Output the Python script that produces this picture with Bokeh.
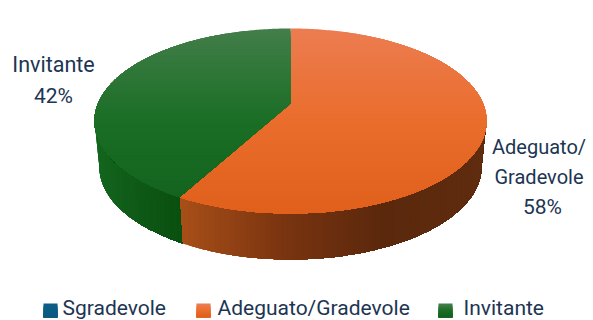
import numpy as np
from bokeh.plotting import figure
from bokeh.models import Range1d, ColumnDataSource
from bokeh.core.properties import value
from bokeh.embed import file_html
from bokeh.resources import INLINE

categories = ["Sgradevole", "Adeguato/Gradevole", "Invitante"]
values = [0, 58, 42]
label_lines = [[], ["Adeguato/", "Gradevole"], ["Invitante"]]
top_ramps = [["#0B5F86", "#0B5A80"],
             ["#EC7C50", "#EA6D2C", "#E0601C"],
             ["#427E49", "#1A6E25", "#13621E"]]
side_ramps = [["#0B4F70", "#0B4F70"],
              ["#A84F18", "#7A3410", "#5A280C", "#602C10"],
              ["#14661F", "#0F5A17", "#0A5010"]]
TEXT = "#1C3553"
FONT = "Roboto"

W, H = 593, 320
AX, AY = 290, 103                   # pie centre as seen in perspective
A, B, K = 192.5, 89.2, 0.189        # projective circle
THICK, SHRINK = 46, 0.975


def rim(theta):
    w = 1 + K * np.cos(theta)
    return AX + A * np.sin(theta) / w, AY - B * np.cos(theta) / w


def clip(px, py, coord, limit):
    """Keep the part of a polygon with coord >= limit (coord: 0 for x, 1 for y)."""
    pts = np.column_stack([px, py])
    out = []
    for i in range(len(pts)):
        a, b = pts[i], pts[(i + 1) % len(pts)]
        ina, inb = a[coord] >= limit, b[coord] >= limit
        if ina:
            out.append(a)
        if ina != inb:
            t = (limit - a[coord]) / (b[coord] - a[coord])
            out.append(a + t * (b - a))
    if not out:
        return None, None
    out = np.array(out)
    return out[:, 0].tolist(), out[:, 1].tolist()


def ramp(colors, t):
    c = np.array([[int(h[i:i + 2], 16) for i in (1, 3, 5)] for h in colors], float)
    pos = t * (len(c) - 1)
    i = min(int(pos), len(c) - 2)
    m = c[i] + (c[i + 1] - c[i]) * (pos - i)
    return "#%02x%02x%02x" % tuple(int(round(v)) for v in m)


def bands(px, py, coord, lo, hi, colors, n, sink):
    for k in range(n):
        lim = lo + (hi - lo) * k / n
        cx, cy = clip(px, py, coord, lim)
        if cx:
            sink["xs"].append(cx)
            sink["ys"].append(cy)
            sink["c"].append(ramp(colors, k / (n - 1)))


p = figure(width=W, height=H, x_range=Range1d(0, W), y_range=Range1d(H, 0),
           output_backend="svg", toolbar_location=None, min_border=0,
           outline_line_color=None, background_fill_color="white",
           border_fill_color="white")
p.xaxis.visible = False
p.yaxis.visible = False
p.grid.visible = False

total = sum(values)
side = {"xs": [], "ys": [], "c": []}
top = {"xs": [], "ys": [], "c": []}
front_start = np.arccos(-K)          # right tangent of the disc
front_end = 2 * np.pi - front_start  # left tangent
start = 0.0
y_top, y_bot = rim(0.0)[1], rim(np.pi)[1]
for cat, val, t_ramp, s_ramp in zip(categories, values, top_ramps, side_ramps):
    end = start + 2 * np.pi * val / total
    if val > 0:
        th = np.linspace(start, end, 240)
        rx, ry = rim(th)
        bands(np.r_[AX, rx], np.r_[AY, ry], 1, y_top, y_bot, t_ramp, 70, top)
        a, b = max(start, front_start), min(end, front_end)
        if b > a:
            th = np.linspace(a, b, 160)
            rx, ry = rim(th)
            bx = AX + (rx - AX) * SHRINK
            by = ry + THICK
            bands(np.r_[rx, bx[::-1]], np.r_[ry, by[::-1]], 0, rx.min() - 1,
                  rx.max() + 1, s_ramp, 60, side)
    start = end

p.patches("xs", "ys", fill_color="c", line_color=None, source=ColumnDataSource(side))
p.patches("xs", "ys", fill_color="c", line_color=None, source=ColumnDataSource(top))


def txt(x, y, s, align="center", size="20.5px"):
    p.text([x], [y], text=[s], text_font=value(FONT), text_font_size=value(size),
           text_color=TEXT, text_align=align, text_baseline="middle")


# data labels
txt(53, 64, label_lines[2][0], size="21.5px")
txt(53, 95, f"{values[2]}%", size="21px")
txt(538.5, 146, label_lines[1][0], size="20px")
txt(538.5, 176, label_lines[1][1], size="20px")
txt(542, 206, f"{values[1]}%", size="21px")

# legend
SW_Y, TXT_Y = 310, 307.5
for cat, sx, tx, t_ramp in zip(categories, [43, 196, 438], [62, 217, 463], top_ramps):
    for i in range(7):
        p.quad(left=[sx], right=[sx + 14], top=[SW_Y - 7 + i * 2],
               bottom=[SW_Y + 7], fill_color=ramp(t_ramp, i / 6), line_color=None)
    txt(tx, TXT_Y, cat, align="left", size="21px")

open("out.html", "w").write(file_html(p, INLINE))
